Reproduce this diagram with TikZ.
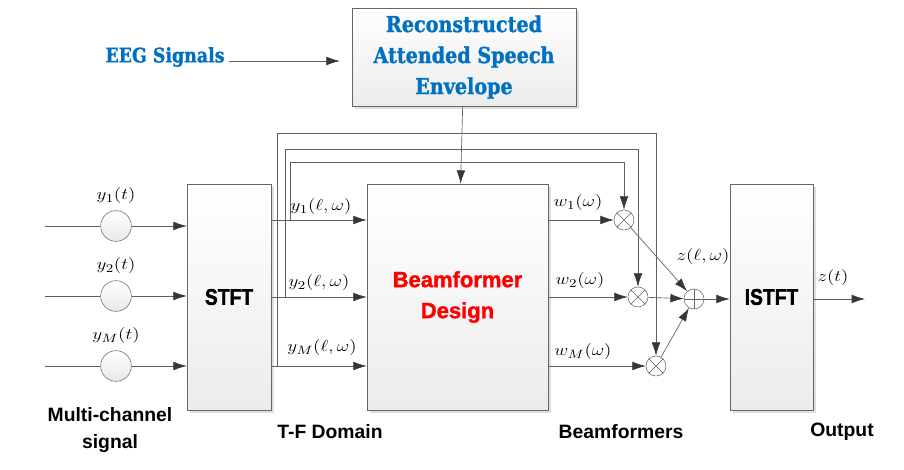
\documentclass[tikz,border=0pt]{standalone}
\usepackage[no-math]{fontspec}
\usepackage{amsmath}
\usetikzlibrary{arrows.meta,shadows}

\newfontfamily\capsans{Liberation Sans}
\newfontfamily\heavysans{Liberation Sans}[FakeStretch=0.85, FakeBold=1.6]
\newfontfamily\blacksans{Liberation Sans}[FakeBold=1.6]
\newfontfamily\slabserif{DejaVu Serif}[FakeStretch=0.87, FakeBold=1.2]
\definecolor{eegblue}{RGB}{0,112,192}
\definecolor{linegray}{RGB}{96,96,96}
\definecolor{tipgray}{RGB}{55,55,55}
\newcommand{\wide}[1]{\scalebox{1.2}[1]{#1}}

\tikzset{
  line/.style={draw=linegray, line width=0.5pt},
  arr/.style={line, -{Latex[length=10pt,width=6.5pt,color=tipgray]}},
  block/.style={draw=gray!80!black, top color=white, bottom color=gray!15, inner sep=0pt,
    drop shadow={shadow xshift=2.5pt, shadow yshift=-2.5pt, fill=gray!50, opacity=0.5}},
  sensor/.style={circle, draw=gray!80!black, minimum size=23pt, inner sep=0pt,
    top color=white, bottom color=gray!18},
  mult/.style={circle, draw=gray!80!black, fill=white, minimum size=15pt, inner sep=0pt},
  lab/.style={font=\fontsize{12.5}{14}\selectfont},
  caption/.style={font=\capsans\bfseries\fontsize{14.5}{20}\selectfont, align=center},
}

\begin{document}
\begin{tikzpicture}[x=0.75pt, y=-0.75pt]
\useasboundingbox (0,0) rectangle (904,470);

% envelope and EEG
\node[block, minimum width=168pt, minimum height=73.5pt, align=center, text=eegblue,
  font=\slabserif\bfseries\fontsize{16.5}{23.25}\selectfont] (env) at (464,57)
  {Reconstructed\\Attended Speech\\Envelope};
\node[text=eegblue, font=\slabserif\bfseries\fontsize{15}{18}\selectfont] (eeg) at (165,57) {EEG Signals};
\draw[arr, shorten >=9pt] (eeg.east |- 0,61) -- (env.west |- 0,61);

% boxes
\node[block, minimum width=63pt, minimum height=169.5pt,
  font=\heavysans\bfseries\fontsize{17}{20}\selectfont] (stft) at (229,297) {STFT};
\node[block, minimum width=135.75pt, minimum height=169.5pt, align=center, text=red,
  font=\blacksans\bfseries\fontsize{16.5}{23.25}\selectfont] (bf) at (457.5,297) {Beamformer\\Design};
\node[block, minimum width=62.25pt, minimum height=169.5pt,
  font=\heavysans\bfseries\fontsize{17}{20}\selectfont] (istft) at (771.5,297) {ISTFT};
\draw[arr] (env) -- (bf);

% sensors
\node[sensor] (s1) at (116,226) {};
\node[sensor] (s2) at (116,296) {};
\node[sensor] (sM) at (116,366) {};
\node[lab] (ly1) at (116,196) {\wide{$y_1(t)$}};
\node[lab] (ly2) at (116,266) {\wide{$y_2(t)$}};
\node[lab] (lyM) at (116,336) {\wide{$y_M(t)$}};
\coordinate (in1) at (45,226);
\coordinate (in2) at (45,296);
\coordinate (inM) at (45,366);
\draw[line] (in1) -- (s1);
\draw[line] (in2) -- (s2);
\draw[line] (inM) -- (sM);
\draw[arr] (s1) -- (s1 -| stft.west);
\draw[arr] (s2) -- (s2 -| stft.west);
\draw[arr] (sM) -- (sM -| stft.west);

% multipliers and adder
\node[mult] (m1) at (624,220) {};
\node[mult] (m2) at (638,297) {};
\node[mult] (mM) at (656,366) {};
\node[mult] (add) at (694,299) {};
\foreach \m in {m1,m2,mM}
  \draw[gray!80!black, line width=0.4pt] (\m.north west) -- (\m.south east) (\m.north east) -- (\m.south west);
\draw[gray!80!black, line width=0.4pt] (add.north) -- (add.south) (add.west) -- (add.east);

% T-F signals
\draw[arr] (stft.east |- m1) -- (bf.west |- m1);
\draw[arr] (stft.east |- m2) -- (bf.west |- m2);
\draw[arr] (stft.east |- mM) -- (bf.west |- mM);
\node[lab] (ty1) at (321,207) {\wide{$y_1(\ell,\omega)$}};
\node[lab] (ty2) at (319,283) {\wide{$y_2(\ell,\omega)$}};
\node[lab] (tyM) at (322,348) {\wide{$y_M(\ell,\omega)$}};

% feedback to multipliers
\draw[arr] ([xshift=4.5pt]stft.east |- mM) -- ++(0,-233) -| (mM);
\draw[arr] ([xshift=10.5pt]stft.east |- m2) -- ++(0,-148) -| (m2);
\draw[arr] ([xshift=14.25pt]stft.east |- m1) -- ++(0,-58) -| (m1);

% weights
\draw[arr] (bf.east |- m1) -- (m1);
\draw[arr] (bf.east |- m2) -- (m2);
\draw[arr] (bf.east |- mM) -- (mM);
\node[lab] (lw1) at (578,203) {\wide{$w_1(\omega)$}};
\node[lab] (lw2) at (580,281) {\wide{$w_2(\omega)$}};
\node[lab] (lwM) at (583,352) {\wide{$w_M(\omega)$}};

\draw[arr] (m1) -- (add);
\draw[arr] (m2) -- (add);
\draw[arr] (mM) -- (add);
\node[lab] (lz) at (703,257) {\wide{$z(\ell,\omega)$}};
\draw[arr] (add) -- (add -| istft.west);

% output
\coordinate (out) at (865,299);
\draw[arr] (istft.east |- out) -- (out);
\node[lab] (lzt) at (833,278) {\wide{$z(t)$}};

% captions
\node[caption] (c1) at (110,430) {Multi-channel\\signal};
\node[caption] (c2) at (330,432) {T-F Domain};
\node[caption] (c3) at (621,432) {Beamformers};
\node[caption] (c4) at (842,432) {Output};

\end{tikzpicture}
\end{document}
